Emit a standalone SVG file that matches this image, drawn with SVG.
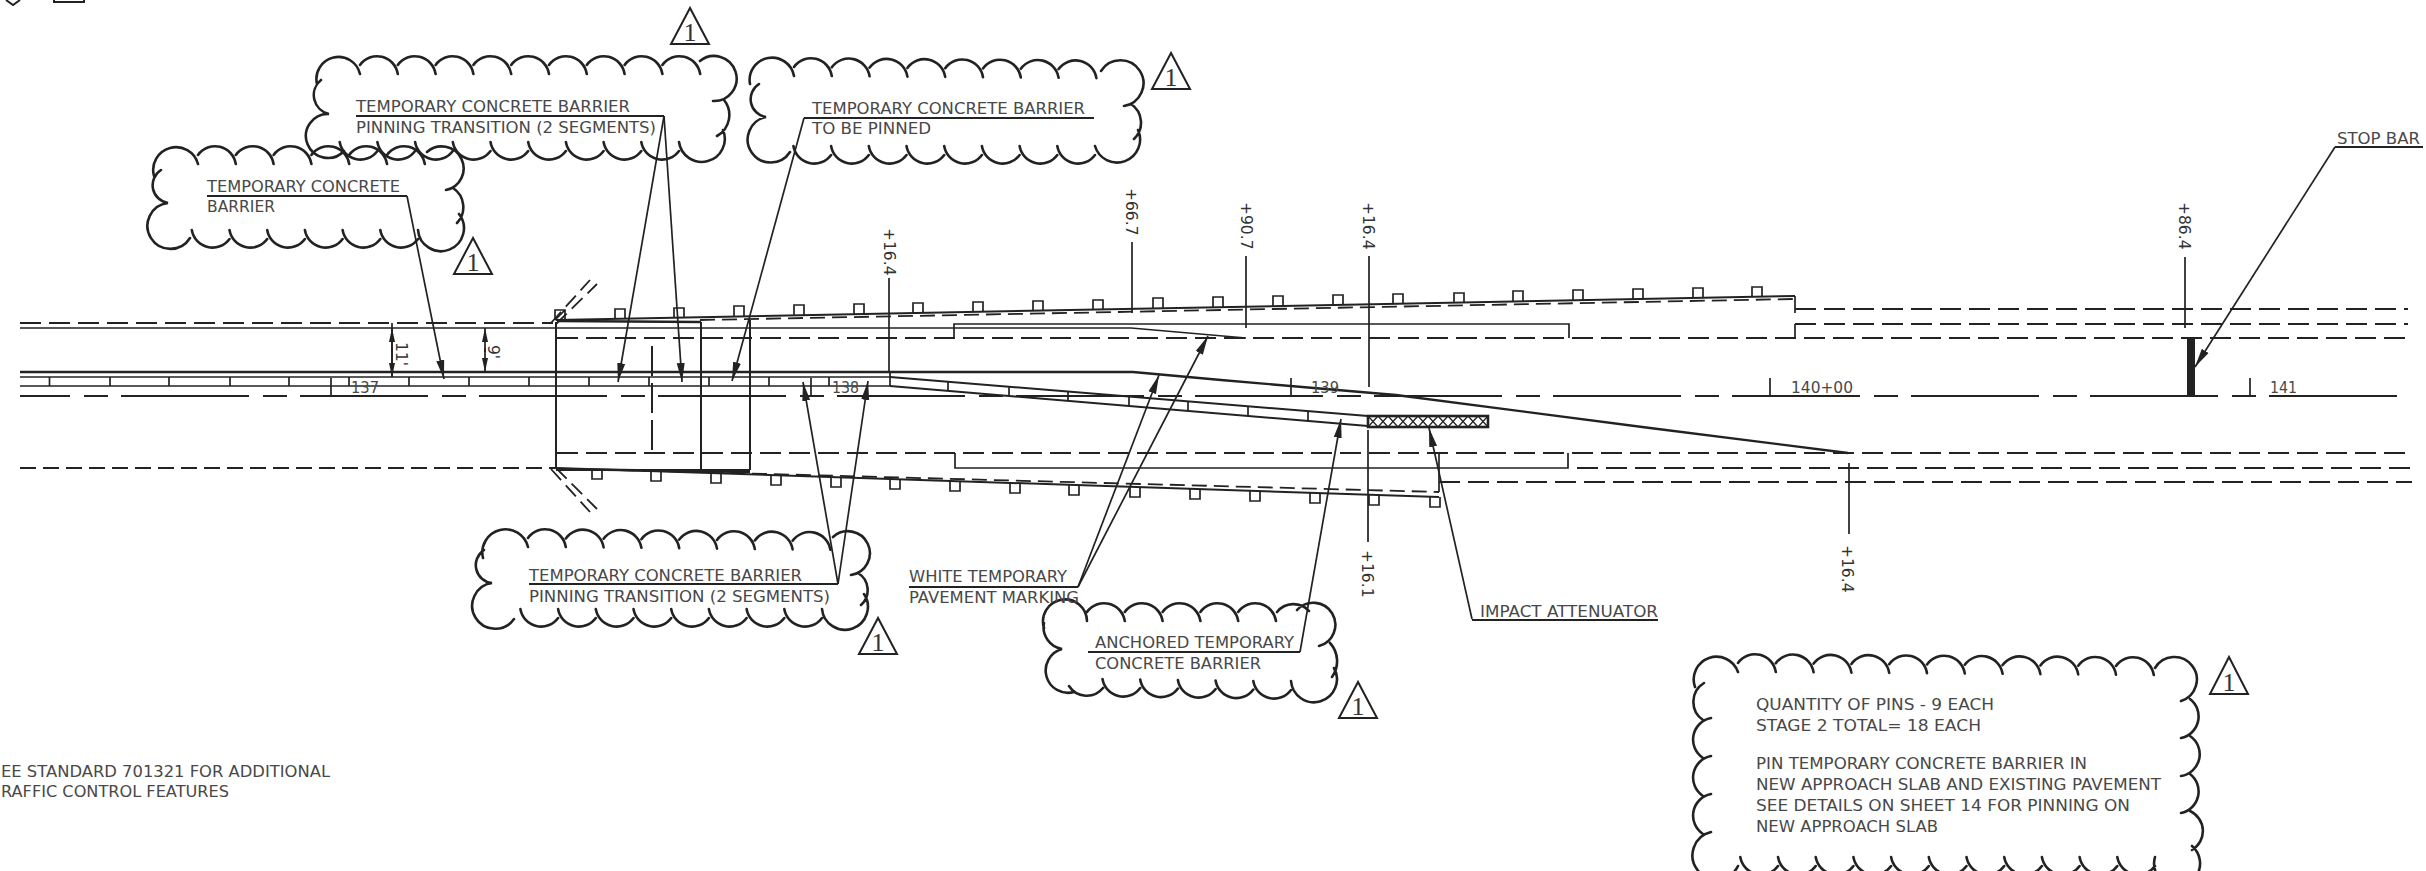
<svg xmlns="http://www.w3.org/2000/svg" width="2426" height="871" viewBox="0 0 2426 871">
<style>
text{font-family:"DejaVu Sans","Liberation Sans",sans-serif;font-size:16px;fill:#484848}
.rot{font-size:15.5px;fill:#333}
.num{font-family:"Liberation Serif",serif;font-size:26px;text-anchor:middle;fill:#333}
path,line,polygon,rect,polyline{fill:none;stroke:#222;stroke-width:2}
.cloud{stroke-width:2.6;stroke-linecap:round}
.tri{stroke-width:2}
.thin{stroke-width:1.7}
.d1{stroke-dasharray:21 8;stroke-width:2}
.d2{stroke-dasharray:16 7;stroke-width:2}
.cl{stroke-dasharray:128 14 24 13;stroke-dashoffset:78;stroke-width:2}
.dd{stroke-dasharray:30 7;stroke-width:2}
.ds{stroke-dasharray:15 7;stroke-width:1.8}
.ld{stroke-width:1.7}
.arr{marker-end:url(#ah)}
</style>
<defs>
<marker id="ah" markerWidth="20" markerHeight="9" refX="19" refY="4.5" orient="auto" markerUnits="userSpaceOnUse"><path d="M0 .5L19 4.5L0 8.5z" style="fill:#222;stroke:none"/></marker>
<marker id="ad" markerWidth="14" markerHeight="7" refX="14" refY="3.5" orient="auto" markerUnits="userSpaceOnUse"><path d="M0 .5L14 3.5L0 6.5z" style="fill:#222;stroke:none"/></marker>
<pattern id="hatch" width="10" height="11" patternUnits="userSpaceOnUse" x="1368" y="416"><path d="M0 0L10 11M10 0L0 11" style="stroke-width:1.4"/></pattern>
</defs>

<g id="sheet-fragment"><path d="M6 0L13 5L20 0M54 0V2H84V0"/></g>

<g id="roadway">
<line class="d1" x1="20" y1="323" x2="553" y2="323"/>
<line class="thin" x1="20" y1="328" x2="1131" y2="328"/>
<line class="thin" x1="1131" y1="328" x2="1246" y2="338"/>
<line class="d1" x1="557" y1="338" x2="2408" y2="338"/>
<line x1="20" y1="372" x2="1133" y2="372" style="stroke-width:2.4"/>
<polyline points="1133,372 1221,380 1396,395 1650,428 1848,453" style="stroke-width:2.4"/>
<line class="thin" x1="20" y1="377" x2="890" y2="377"/>
<line class="thin" x1="20" y1="386" x2="890" y2="386"/>
<path class="thin" d="M49.500 377v9M110 377v9M169 377v9M230 377v9M289 377v9M349 377v9M409 377v9M469 377v9M529 377v9M589 377v9M649 377v9M709 377v9M769 377v9M829 377v9M890 372v14"/>
<line class="cl" x1="20" y1="396" x2="2398" y2="396"/>
<path class="thin" d="M954 338V324H1569V338M1795 300V313M1795 324V338"/>
<line class="d1" x1="1795" y1="309" x2="2408" y2="309"/>
<line class="d1" x1="1795" y1="324" x2="2408" y2="324"/>
<line class="d2" x1="20" y1="468" x2="555" y2="468"/>
<line class="d1" x1="557" y1="453" x2="2412" y2="453"/>
<path class="thin" d="M955 453V468H1568V453"/>
<line class="d1" x1="1577" y1="468" x2="2412" y2="468"/>
<line class="d1" x1="1439" y1="482" x2="2412" y2="482"/>
<line class="thin" x1="1439" y1="453" x2="1439" y2="492"/>
<path d="M556 322V469M701 322V470M750 320V470M556 470H750"/>
<line class="dd" x1="652" y1="346" x2="652" y2="453"/>
</g>

<g id="taper-barrier">
<path d="M890 377L1368 416M890 386L1368 426"/>
<path class="thin" d="M948 381.700V391M1009 386.700V396M1068 391.500V401M1129 396.500V406M1188 401.300V411M1248 406V416M1308 411V421"/>
<rect x="1368" y="416" width="120" height="11" style="fill:url(#hatch);stroke-width:2.600"/>
</g>

<g id="top-barrier">
<line x1="556" y1="320" x2="1795" y2="296"/>
<line x1="557" y1="321" x2="701" y2="322" style="stroke-width:2.6"/>
<line class="ds" x1="700" y1="320" x2="1794" y2="299"/>
<line class="thin" x1="1795" y1="296" x2="1795" y2="300"/>
<path class="thin" d="M555 320v-10h10v10M555 320L565 310M615 319v-10h10v10M674 318v-10h10v10M734 316v-10h10v10M794 315v-10h10v10M854 314v-10h10v10M913 313v-10h10v10M973 312v-10h10v10M1033 311v-10h10v10M1093 310v-10h10v10M1153 308v-10h10v10M1213 307v-10h10v10M1273 306v-10h10v10M1333 305v-10h10v10M1393 304v-10h10v10M1454 303v-10h10v10M1513 301v-10h10v10M1573 300v-10h10v10M1633 299v-10h10v10M1693 298v-10h10v10M1752 297v-10h10v10"/>
<path class="ds" d="M551 323L590 280M556 324L597 284"/>
</g>

<g id="bottom-barrier">
<line x1="556" y1="468" x2="1439" y2="497"/>
<line x1="557" y1="469" x2="750" y2="472" style="stroke-width:2.6"/>
<line class="ds" x1="620" y1="470" x2="1439" y2="492"/>
<path class="thin" d="M592 469v10h10v-10M651 471v10h10v-10M711 473v10h10v-10M771 475v10h10v-10M831 477v10h10v-10M890 479v10h10v-10M950 481v10h10v-10M1010 483v10h10v-10M1069 485v10h10v-10M1130 487v10h10v-10M1190 489v10h10v-10M1250 491v10h10v-10M1310 493v10h10v-10M1369 495v10h10v-10M1430 497v10h10v-10"/>
<path class="ds" d="M551 469L590 512M556 468L597 509"/>
</g>

<g id="stations">
<path class="thin" d="M331 378V396M811 378V396M1291 378V396M1770 378V396M2250 378V396"/>
<text x="351" y="393" textLength="28" lengthAdjust="spacingAndGlyphs">137</text>
<text x="832" y="393" textLength="27" lengthAdjust="spacingAndGlyphs">138</text>
<text x="1311" y="393" textLength="28" lengthAdjust="spacingAndGlyphs">139</text>
<text x="1791" y="393" textLength="62" lengthAdjust="spacingAndGlyphs">140+00</text>
<text x="2270" y="393" textLength="27" lengthAdjust="spacingAndGlyphs">141</text>
</g>

<g id="offsets">
<path class="thin" d="M889 278V372M1132 242V313M1246 256V328M1369 256V387M2185 257V328M1368 430V542M1849 463V534"/>
<text class="rot" transform="translate(884 228) rotate(90)">+16.4</text>
<text class="rot" transform="translate(1126 188) rotate(90)">+66.7</text>
<text class="rot" transform="translate(1241 202) rotate(90)">+90.7</text>
<text class="rot" transform="translate(1363 202) rotate(90)">+16.4</text>
<text class="rot" transform="translate(2179 202) rotate(90)">+86.4</text>
<text class="rot" transform="translate(1362 550) rotate(90)">+16.1</text>
<text class="rot" transform="translate(1842 545) rotate(90)">+16.4</text>
</g>

<g id="dimensions">
<path class="thin" d="M392 352L392 328" marker-end="url(#ad)"/>
<path class="thin" d="M392 348L392 377" marker-end="url(#ad)"/>
<line class="thin" x1="392" y1="323" x2="392" y2="377"/>
<path class="thin" d="M485 352L485 328" marker-end="url(#ad)"/>
<path class="thin" d="M485 348L485 372" marker-end="url(#ad)"/>
<text class="rot" transform="translate(396 342) rotate(90)">11'</text>
<text class="rot" transform="translate(488 345) rotate(90)">9'</text>
</g>

<g id="connectors">
<path class="ld arr" d="M407 196L444 379"/>
<path class="ld arr" d="M664 116L618 382"/>
<path class="ld arr" d="M664 116L682 382"/>
<path class="ld arr" d="M804 118L732 381"/>
<path class="ld arr" d="M838 584L803 382"/>
<path class="ld arr" d="M838 584L868 381"/>
<path class="ld arr" d="M1078 587L1159 375"/>
<path class="ld arr" d="M1078 587L1208 336"/>
<path class="ld arr" d="M1300 652L1341 419"/>
<path class="ld arr" d="M1472 619L1429 428"/>
<path class="ld arr" d="M2335 147L2195 367"/>
</g>

<g id="stop-bar"><rect x="2187" y="338" width="8" height="58" style="fill:#222;stroke:none"/></g>

<g id="note-pinning-top">
<path class="cloud" d="M317 84A22 22 0 1 1 360 74M360 65a21 21 0 0 1 37.800 9m0-9a21 21 0 0 1 37.800 9m0-9a21 21 0 0 1 37.800 9m0-9a21 21 0 0 1 37.800 9m0-9a21 21 0 0 1 37.800 9m0-9a21 21 0 0 1 37.800 9m0-9a21 21 0 0 1 37.800 9m0-9a21 21 0 0 1 37.800 9m0-9a21 21 0 0 1 37.800 9M700 61A22.500 22.500 0 1 1 713 101M724 100A24 24 0 0 1 717 136M723 130A23 23 0 1 1 679 142M679 151a21 21 0 0 1-37.700-9m0 9a21 21 0 0 1-37.700-9m0 9a21 21 0 0 1-37.700-9m0 9a21 21 0 0 1-37.700-9m0 9a21 21 0 0 1-37.700-9m0 9a21 21 0 0 1-37.700-9m0 9a21 21 0 0 1-37.700-9m0 9a21 21 0 0 1-37.700-9m0 9a21 21 0 0 1-37.700-9M344 151A22 22 0 1 1 329 114A19.400 19.400 0 0 1 321 80"/>
<text x="356" y="112" textLength="274" lengthAdjust="spacingAndGlyphs">TEMPORARY CONCRETE BARRIER</text>
<line x1="356" y1="116" x2="664" y2="116"/>
<text x="356" y="133" textLength="300" lengthAdjust="spacingAndGlyphs">PINNING TRANSITION (2 SEGMENTS)</text>
<polygon class="tri" points="690,8 671,44 709,44"/><text class="num" x="690" y="41">1</text>
</g>

<g id="note-barrier">
<path class="cloud" d="M154 176A22.500 22.500 0 1 1 198 164M198 155a21 21 0 0 1 37.800 9m0-9a21 21 0 0 1 37.800 9m0-9a21 21 0 0 1 37.800 9m0-9a21 21 0 0 1 37.800 9m0-9a21 21 0 0 1 37.800 9m0-9a21 21 0 0 1 37.800 9M427 152A22 22 0 1 1 446 190M453 188A23 23 0 0 1 457 223M459 214A23 23 0 1 1 418 230M418 239a21 21 0 0 1-37.700-9m0 9a21 21 0 0 1-37.700-9m0 9a21 21 0 0 1-37.700-9m0 9a21 21 0 0 1-37.700-9m0 9a21 21 0 0 1-37.700-9m0 9a21 21 0 0 1-37.700-9M190 238A23 23 0 1 1 168 203A18 18 0 0 1 161 170"/>
<text x="207" y="192" textLength="193" lengthAdjust="spacingAndGlyphs">TEMPORARY CONCRETE</text>
<line x1="207" y1="196" x2="407" y2="196"/>
<text x="207" y="212" textLength="68" lengthAdjust="spacingAndGlyphs">BARRIER</text>
<polygon class="tri" points="473,238 454,274 492,274"/><text class="num" x="473" y="271">1</text>
</g>

<g id="note-to-be-pinned">
<path class="cloud" d="M750 84A22 22 0 1 1 794 76M794 67a21 21 0 0 1 37.800 9m0-8.700a21 21 0 0 1 37.800 9m0-8.700a21 21 0 0 1 37.800 9m0-8.700a21 21 0 0 1 37.800 9m0-8.700a21 21 0 0 1 37.800 9m0-8.700a21 21 0 0 1 37.800 9m0-8.700a21 21 0 0 1 37.800 9m0-8.700a21 21 0 0 1 37.800 9M1101 71A23 23 0 1 1 1124 106M1131 104A22.500 22.500 0 0 1 1134 139M1138 130A23 23 0 1 1 1095 146M1095 155a21 21 0 0 1-37.700-9m0 9a21 21 0 0 1-37.700-9m0 9a21 21 0 0 1-37.700-9m0 9a21 21 0 0 1-37.700-9m0 9a21 21 0 0 1-37.700-9m0 9a21 21 0 0 1-37.700-9m0 9a21 21 0 0 1-37.700-9m0 9a21 21 0 0 1-37.700-9M790 152A23 23 0 1 1 766 117A18 18 0 0 1 759 84"/>
<text x="812" y="114" textLength="273" lengthAdjust="spacingAndGlyphs">TEMPORARY CONCRETE BARRIER</text>
<line x1="804" y1="118" x2="1094" y2="118"/>
<text x="812" y="134" textLength="119" lengthAdjust="spacingAndGlyphs">TO BE PINNED</text>
<polygon class="tri" points="1171,53 1152,89 1190,89"/><text class="num" x="1171" y="86">1</text>
</g>

<g id="note-pinning-bottom">
<path class="cloud" d="M483 558A22.500 22.500 0 1 1 528 547M528 538a21 21 0 0 1 37.800 9m0-8.600a21 21 0 0 1 37.800 9m0-8.600a21 21 0 0 1 37.800 9m0-8.600a21 21 0 0 1 37.800 9m0-8.600a21 21 0 0 1 37.800 9m0-8.600a21 21 0 0 1 37.800 9m0-8.600a21 21 0 0 1 37.800 9m0-8.600a21 21 0 0 1 37.800 9M833 537A22 22 0 1 1 851 575M858 573A20 20 0 0 1 861 605M864 594A23 23 0 1 1 822 609M822 618a21 21 0 0 1-37.700-9m0 9a21 21 0 0 1-37.700-9m0 9a21 21 0 0 1-37.700-9m0 9a21 21 0 0 1-37.700-9m0 9a21 21 0 0 1-37.700-9m0 9a21 21 0 0 1-37.700-9m0 9a21 21 0 0 1-37.700-9m0 9a21 21 0 0 1-37.700-9M514 619A23 23 0 1 1 492 583A18 18 0 0 1 484 550"/>
<text x="529" y="581" textLength="273" lengthAdjust="spacingAndGlyphs">TEMPORARY CONCRETE BARRIER</text>
<line x1="529" y1="584" x2="838" y2="584"/>
<text x="529" y="602" textLength="301" lengthAdjust="spacingAndGlyphs">PINNING TRANSITION (2 SEGMENTS)</text>
<polygon class="tri" points="878,618 859,654 897,654"/><text class="num" x="878" y="651">1</text>
</g>

<g id="note-anchored">
<path class="cloud" d="M1044 628A22 22 0 1 1 1087 621M1087 612a21 21 0 0 1 37.800 9m0-9a21 21 0 0 1 37.800 9m0-9a21 21 0 0 1 37.800 9m0-9a21 21 0 0 1 37.800 9m0-9a21 21 0 0 1 37.800 9M1277 612a21 21 0 0 1 32-1M1297 610A22 22 0 1 1 1319 646M1330 643A27 27 0 0 1 1332 677M1334 668A23 23 0 1 1 1291 681M1291 690a21 21 0 0 1-37.700-9m0 8.500a21 21 0 0 1-37.700-9m0 8.500a21 21 0 0 1-37.700-9m0 8.500a21 21 0 0 1-37.700-9m0 8.500a21 21 0 0 1-37.700-9M1103 688A21 21 0 0 1 1069 686M1074 692A22 22 0 1 1 1062 649A22 22 0 0 1 1044 623"/>
<text x="1095" y="648" textLength="199" lengthAdjust="spacingAndGlyphs">ANCHORED TEMPORARY</text>
<line x1="1088" y1="652" x2="1300" y2="652"/>
<text x="1095" y="669" textLength="166" lengthAdjust="spacingAndGlyphs">CONCRETE BARRIER</text>
<polygon class="tri" points="1358,682 1339,718 1377,718"/><text class="num" x="1358" y="715">1</text>
</g>

<g id="note-quantity">
<path class="cloud" d="M1695 687A22.500 22.500 0 1 1 1738 672M1738 663a21 21 0 0 1 37.800 9m0-8.700a21 21 0 0 1 37.800 9m0-8.700a21 21 0 0 1 37.800 9m0-8.700a21 21 0 0 1 37.800 9m0-8.700a21 21 0 0 1 37.800 9m0-8.700a21 21 0 0 1 37.800 9m0-8.700a21 21 0 0 1 37.800 9m0-8.700a21 21 0 0 1 37.800 9m0-8.700a21 21 0 0 1 37.800 9m0-8.700a21 21 0 0 1 37.800 9m0-8.700a21 21 0 0 1 37.800 9M2155 668A22.500 22.500 0 1 1 2181 701M2190 699A22 22 0 0 1 2181 738M2190 736A22 22 0 0 1 2181 776M2190 774A22 22 0 0 1 2181 813M2190 811A22 22 0 0 1 2192 850M2192 846A23 23 0 1 1 2155 857M2155 866a21 21 0 0 1-37.700-9m0 9a21 21 0 0 1-37.700-9m0 9a21 21 0 0 1-37.700-9m0 9a21 21 0 0 1-37.700-9m0 9a21 21 0 0 1-37.700-9m0 9a21 21 0 0 1-37.700-9m0 9a21 21 0 0 1-37.700-9m0 9a21 21 0 0 1-37.700-9m0 9a21 21 0 0 1-37.700-9m0 9a21 21 0 0 1-37.700-9m0 9a21 21 0 0 1-37.700-9M1738 866A24 24 0 1 1 1711 832M1703 834A22 22 0 0 1 1711 794M1703 796A22 22 0 0 1 1711 756M1703 758A22 22 0 0 1 1711 718M1703 720A22 22 0 0 1 1704 683"/>
<text x="1756" y="710" textLength="238" lengthAdjust="spacingAndGlyphs">QUANTITY OF PINS - 9 EACH</text>
<text x="1756" y="731" textLength="225" lengthAdjust="spacingAndGlyphs">STAGE 2 TOTAL= 18 EACH</text>
<text x="1756" y="769" textLength="331" lengthAdjust="spacingAndGlyphs">PIN TEMPORARY CONCRETE BARRIER IN</text>
<text x="1756" y="790" textLength="405" lengthAdjust="spacingAndGlyphs">NEW APPROACH SLAB AND EXISTING PAVEMENT</text>
<text x="1756" y="811" textLength="374" lengthAdjust="spacingAndGlyphs">SEE DETAILS ON SHEET 14 FOR PINNING ON</text>
<text x="1756" y="832" textLength="182" lengthAdjust="spacingAndGlyphs">NEW APPROACH SLAB</text>
<polygon class="tri" points="2229,657 2210,694 2248,694"/><text class="num" x="2229" y="691">1</text>
</g>

<g id="label-white-marking">
<text x="909" y="582" textLength="158" lengthAdjust="spacingAndGlyphs">WHITE TEMPORARY</text>
<line x1="909" y1="587" x2="1078" y2="587"/>
<text x="909" y="603" textLength="170" lengthAdjust="spacingAndGlyphs">PAVEMENT MARKING</text>
</g>
<g id="label-impact-attenuator">
<text x="1480" y="617" textLength="178" lengthAdjust="spacingAndGlyphs">IMPACT ATTENUATOR</text>
<line x1="1472" y1="620" x2="1658" y2="620"/>
</g>
<g id="label-stop-bar">
<text x="2337" y="144" textLength="83" lengthAdjust="spacingAndGlyphs">STOP BAR</text>
<line x1="2335" y1="147" x2="2423" y2="147"/>
</g>
<g id="general-note">
<text x="1" y="777" textLength="329" lengthAdjust="spacingAndGlyphs">EE STANDARD 701321 FOR ADDITIONAL</text>
<text x="1" y="797" textLength="228" lengthAdjust="spacingAndGlyphs">RAFFIC CONTROL FEATURES</text>
</g>
</svg>
